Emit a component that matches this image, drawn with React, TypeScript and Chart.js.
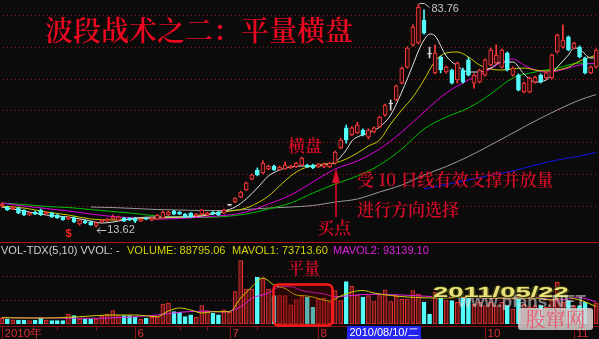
import React, { useEffect, useRef } from "react";
import { Chart, registerables } from "chart.js";

Chart.register(...registerables);

// ---------------- data ----------------
const N = 108;
const LABELS: string[] = Array.from({ length: N }, (_, i) => `D${i + 1}`);

const OPEN = [
  20.22, 19.91, 19.3, 19.6, 18.9, 17.4, 18.3, 18.9, 17.7, 18.0,
  17.4, 16.8, 16.1, 16.5, 14.6, 15.5, 15.2, 14.0, 15.2, 15.5,
  16.1, 15.8, 16.5, 16.4, 16.4, 15.5, 16.4, 15.8, 16.1, 16.5,
  17.4, 18.6, 18.3, 17.7, 18.0, 17.1, 17.7, 17.4, 18.3, 18.3,
  18.0, 20.5, 21.5, 23.0, 25.3, 28.7, 31.5, 30.6, 31.9, 32.8,
  31.6, 31.9, 32.2, 32.5, 33.1, 33.1, 33.1, 32.5, 32.5, 32.5,
  33.7, 38.5, 44.8, 42.6, 43.2, 44.1, 41.9, 43.5, 45.1, 48.8,
  52.3, 53.6, 58.9, 63.9, 70.9, 71.5, 78.7, 68.0, 62.1, 67.1,
  62.4, 63.0, 59.9, 63.0, 66.2, 58.9, 59.2, 61.4, 64.6, 65.2,
  63.9, 68.3, 61.4, 61.4, 56.1, 56.1, 59.2, 61.4, 60.5, 60.5,
  68.7, 70.2, 73.4, 69.9, 70.2, 66.8, 62.1, 64.0,
];
const HIGH = [
  21.2, 20.2, 20.2, 19.9, 19.1, 18.3, 18.6, 19.3, 18.5, 18.3,
  17.7, 17.0, 17.0, 16.8, 16.0, 15.8, 15.4, 15.2, 16.0, 16.4,
  17.4, 17.1, 16.7, 16.6, 16.7, 16.3, 16.6, 16.6, 17.6, 18.6,
  18.6, 18.9, 18.5, 17.9, 18.2, 17.9, 19.2, 18.3, 18.5, 18.6,
  19.3, 20.7, 22.9, 24.9, 27.8, 30.3, 32.2, 34.4, 33.1, 33.1,
  32.8, 34.1, 33.1, 34.0, 35.6, 33.4, 33.4, 33.7, 33.7, 34.0,
  37.5, 41.5, 45.7, 45.2, 46.6, 44.5, 44.5, 45.1, 48.5, 52.3,
  53.6, 58.3, 64.0, 70.3, 77.2, 83.76, 81.9, 70.2, 70.9, 67.4,
  64.3, 63.3, 65.5, 63.6, 67.0, 61.8, 63.3, 66.5, 69.9, 70.9,
  69.6, 68.7, 64.0, 61.8, 59.2, 60.8, 61.1, 61.8, 62.4, 68.0,
  74.3, 77.2, 73.7, 71.8, 70.6, 67.1, 64.3, 69.6,
];
const LOW = [
  19.9, 18.8, 19.1, 17.8, 17.2, 17.2, 17.5, 17.2, 17.5, 16.6,
  16.3, 15.7, 15.9, 15.0, 14.2, 14.7, 14.1, 13.62, 15.0, 15.3,
  15.9, 15.6, 15.3, 15.6, 15.0, 15.3, 15.9, 15.6, 15.9, 16.3,
  17.2, 17.5, 17.5, 16.6, 16.6, 16.9, 17.5, 17.2, 17.5, 17.2,
  17.8, 20.3, 21.3, 22.8, 25.1, 28.5, 29.7, 30.4, 31.6, 31.4,
  31.4, 31.7, 32.0, 32.3, 32.9, 32.3, 32.0, 32.3, 32.3, 32.3,
  33.4, 38.2, 40.0, 42.3, 43.0, 42.3, 41.3, 43.2, 44.8, 48.5,
  50.4, 53.3, 58.6, 63.6, 70.5, 71.2, 74.3, 66.8, 61.8, 62.1,
  62.0, 58.6, 58.9, 58.9, 61.1, 57.3, 58.9, 61.1, 64.3, 64.9,
  63.6, 62.7, 61.1, 56.4, 55.8, 55.8, 58.9, 58.9, 60.2, 60.2,
  68.3, 69.9, 69.0, 69.6, 66.8, 61.8, 61.8, 63.6,
];
const CLOSE = [
  20.85, 18.97, 19.9, 18.0, 17.4, 18.0, 17.7, 17.5, 18.2, 16.8,
  16.5, 15.9, 16.8, 15.2, 15.8, 14.9, 14.3, 14.9, 15.8, 16.1,
  16.8, 16.8, 15.5, 15.8, 15.5, 16.1, 16.1, 16.4, 17.4, 18.3,
  18.3, 17.7, 17.7, 16.8, 16.8, 17.7, 19.0, 18.0, 17.7, 17.4,
  19.0, 20.5, 22.7, 24.6, 27.5, 30.0, 30.0, 33.7, 32.8, 31.6,
  32.5, 33.1, 32.8, 33.7, 35.3, 32.5, 32.2, 33.4, 33.4, 33.7,
  37.2, 41.0, 41.0, 44.8, 45.7, 42.6, 44.1, 44.8, 48.2, 52.0,
  52.3, 58.0, 63.6, 69.9, 76.5, 82.8, 74.6, 68.0, 68.3, 63.0,
  63.9, 58.9, 65.2, 59.2, 61.4, 61.4, 63.0, 66.2, 69.3, 67.7,
  69.3, 63.0, 63.6, 56.7, 58.9, 60.5, 60.8, 59.2, 62.1, 67.7,
  74.0, 72.4, 69.3, 71.5, 67.1, 62.1, 63.9, 69.3,
];
const VOLUME = [
  24000, 21000, 18000, 16800, 16800, 14000, 16800, 25200, 16800, 14000,
  14000, 14000, 42000, 35000, 21000, 21000, 21000, 21000, 35000, 42000,
  56000, 35000, 35000, 35000, 28000, 21000, 25200, 28000, 28000, 84000,
  88000, 52000, 49000, 31000, 38000, 28000, 77000, 56000, 45000, 38000,
  60000, 49000, 136000, 266000, 147000, 147000, 196000, 192000, 147000, 119000,
  119000, 119000, 80000, 102000, 119000, 112000, 70000, 105000, 108000, 91000,
  140000, 98000, 178000, 158000, 122000, 112000, 119000, 94000, 119000, 144000,
  94000, 119000, 105000, 105000, 140000, 126000, 91000, 42000, 133000, 108000,
  98000, 98000, 91000, 112000, 112000, 84000, 91000, 77000, 91000, 77000,
  91000, 77000, 63000, 105000, 84000, 70000, 77000, 77000, 70000, 105000,
  175000, 91000, 98000, 77000, 77000, 91000, 56000, 88795.06,
];

// moving averages: [bar index, value]
const MA5: [number, number][] = [
  [0, 19.91], [4, 18.65], [8, 17.39], [12, 16.77], [16, 15.51], [18, 14.88], [20, 15.19],
  [24, 16.45], [28, 16.77], [32, 16.77], [36, 17.08], [40, 18.65], [42, 19.91], [44, 22.43],
  [46, 25.89], [48, 29.66], [50, 31.55], [52, 32.49], [54, 32.81], [56, 32.81], [58, 33.12],
  [60, 34.06], [62, 37.84], [63, 40.67], [64, 41.93], [66, 43.19], [68, 45.07], [70, 48.84],
  [72, 56.08], [74, 64.57], [75, 68.98], [76, 72.44], [77, 74.32], [78, 73.69], [80, 67.4],
  [82, 64.26], [84, 62.37], [86, 62.37], [88, 63.63], [90, 65.52], [92, 65.52], [94, 61.74],
  [96, 59.23], [98, 59.86], [100, 63.94], [102, 67.72], [103, 69.92], [104, 69.61],
  [106, 66.78], [107, 66.78],
];
const MA10: [number, number][] = [
  [0, 20.22], [4, 19.59], [8, 18.34], [12, 17.39], [16, 16.14], [20, 15.82], [24, 16.14],
  [28, 16.45], [32, 16.77], [36, 17.39], [40, 18.34], [44, 19.59], [46, 21.17], [48, 23.37],
  [50, 26.52], [52, 29.66], [54, 31.86], [56, 32.81], [58, 33.43], [60, 33.75], [62, 35.01],
  [64, 36.89], [66, 39.1], [68, 40.98], [70, 46.02], [72, 50.42], [74, 54.51], [76, 59.86],
  [78, 65.83], [80, 68.35], [82, 68.66], [84, 67.09], [86, 64.57], [88, 63.31], [90, 63.0],
  [92, 63.31], [94, 63.63], [96, 63.0], [98, 62.69], [100, 63.0], [102, 63.94], [104, 65.83],
  [106, 67.09], [107, 67.72],
];
const MA20: [number, number][] = [
  [0, 21.17], [4, 20.22], [8, 19.44], [12, 18.65], [16, 17.71], [20, 16.92], [24, 16.45],
  [28, 16.14], [32, 16.3], [36, 16.77], [40, 17.24], [44, 18.34], [48, 20.85], [52, 23.68],
  [56, 27.77], [60, 31.86], [64, 34.38], [68, 38.15], [72, 43.5], [76, 49.79], [80, 55.77],
  [84, 59.86], [88, 63.31], [90, 65.52], [92, 66.46], [94, 64.57], [96, 63.0], [98, 62.37],
  [100, 62.69], [102, 63.63], [104, 64.57], [107, 65.2],
];
const MA30: [number, number][] = [
  [0, 21.17], [4, 20.7], [8, 20.07], [12, 19.75], [16, 19.12], [20, 18.5], [24, 17.87],
  [28, 17.08], [32, 16.67], [36, 16.61], [40, 16.92], [44, 17.71], [48, 19.28], [52, 21.17],
  [56, 24.31], [60, 27.15], [64, 29.66], [68, 33.12], [72, 38.15], [76, 44.44], [80, 48.22],
  [84, 51.05], [88, 55.45], [92, 60.49], [96, 62.37], [100, 63.63], [104, 65.2], [107, 64.89],
];
const MA60: [number, number][] = [
  [16, 19.91], [20, 19.75], [24, 19.44], [28, 19.12], [32, 18.97], [36, 18.81], [40, 18.81],
  [44, 19.12], [48, 19.59], [52, 19.91], [56, 20.38], [60, 21.48], [64, 22.43], [68, 24.63],
  [72, 26.83], [76, 29.97], [80, 32.65], [84, 35.79], [88, 39.41], [92, 43.19], [96, 46.96],
  [100, 50.42], [104, 53.56], [107, 55.29],
];
const MA120: [number, number][] = [
  [76, 25.57], [80, 26.99], [84, 28.4], [88, 29.97], [92, 31.23], [96, 33.12], [100, 34.69],
  [104, 35.95], [107, 37.05],
];
const MAVOL1: [number, number][] = [
  [0, 26500], [4, 25200], [8, 25200], [12, 28100], [14, 30700], [20, 37800], [24, 37800],
  [28, 30700], [30, 54600], [32, 67200], [34, 58800], [36, 46200], [38, 51700], [41, 51700],
  [43, 109200], [45, 155400], [47, 193200], [49, 163800], [51, 149100], [53, 121800],
  [55, 117600], [57, 107100], [59, 96600], [61, 117600], [63, 134400], [65, 140700],
  [67, 130200], [70, 119700], [73, 113400], [76, 110000], [80, 109200], [84, 113400],
  [88, 109200], [92, 109200], [96, 109200], [99, 100800], [101, 113400], [104, 100800],
  [107, 73713.6],
];
const MAVOL2: [number, number][] = [
  [0, 26500], [8, 25200], [16, 24000], [24, 30700], [28, 37800], [32, 49100], [36, 53800],
  [40, 50400], [43, 72700], [45, 107900], [48, 130200], [50, 155400], [52, 156700],
  [54, 140700], [58, 126000], [60, 114700], [66, 124700], [72, 121800], [78, 114700],
  [84, 110500], [90, 107900], [96, 110500], [100, 100800], [104, 110500], [107, 93139.1],
];

const PRICE_MIN = 8.91;
const PRICE_MAX = 85.02;
const PRICE_GRID = [80.3, 70.3, 60.3, 50.3, 40.3, 30.3, 20.3];
const VOL_MAX = 340200;
const VOL_GRID = [100000, 200000];
const MONTH_TICKS: [number, string][] = [
  [0, "2010年"], [24, "6"], [41, "7"], [57, "8"], [87, "10"], [103, "11"],
];
const MINOR_TICKS = [10, 17, 32, 37, 46];
const HIGH_IDX = 75;
const LOW_IDX = 17;
const SIGNAL_IDX = 12;

// ---------------- style ----------------
const BG = "#0b0b0b";
const UP = "#ff3a3a";
const UP_FILL = "#2c0a0a";
const VOL_UP_FILL = "#5e1414";
const DOWN = "#54fcfc";
const FLAT = "#d8d8d8";
const GRID = "#961414";
const TXT_RED = "#d80c26";
const CJK = '"Noto Serif CJK SC", "Noto Sans CJK SC", sans-serif';
const LAT = '"Liberation Sans", Arial, sans-serif';

function series(pts: [number, number][]) {
  const out: (number | null)[] = new Array(N).fill(null);
  for (const [i, v] of pts) out[i] = v;
  return out;
}
function dirOf(i: number) {
  if (CLOSE[i] > OPEN[i]) return 1;
  if (CLOSE[i] < OPEN[i]) return -1;
  return 0;
}
function volUp(i: number) {
  const d = dirOf(i);
  if (d !== 0) return d > 0;
  return i === 0 || CLOSE[i] >= CLOSE[i - 1];
}
const lineDs = (label: string, pts: [number, number][], color: string, order: number) => ({
  type: "line" as const,
  label,
  data: series(pts),
  borderColor: color,
  borderWidth: 1,
  pointRadius: 0,
  pointHoverRadius: 0,
  spanGaps: true,
  tension: 0.4,
  cubicInterpolationMode: "monotone" as const,
  fill: false,
  order,
});

const gridPlugin = (id: string, scaleId: string, values: number[]) => ({
  id,
  beforeDatasetsDraw(chart: any) {
    const { ctx, chartArea } = chart;
    const s = chart.scales[scaleId];
    ctx.save();
    ctx.strokeStyle = GRID;
    ctx.lineWidth = 1;
    ctx.setLineDash([1, 3]);
    for (const v of values) {
      const y = Math.round(s.getPixelForValue(v)) + 0.5;
      ctx.beginPath();
      ctx.moveTo(chartArea.left, y);
      ctx.lineTo(chartArea.right, y);
      ctx.stroke();
    }
    ctx.restore();
  },
});

const priceLabels = {
  id: "priceLabels",
  afterDatasetsDraw(chart: any) {
    const { ctx } = chart;
    const xs = chart.scales.x;
    const ys = chart.scales.y;
    ctx.save();
    const hx = xs.getPixelForValue(HIGH_IDX);
    const hy = ys.getPixelForValue(HIGH[HIGH_IDX]);
    ctx.strokeStyle = "#c4c4c4";
    ctx.lineWidth = 1;
    ctx.beginPath();
    ctx.moveTo(hx + 1, hy - 0.5);
    ctx.lineTo(hx + 6, hy - 0.5);
    ctx.lineTo(hx + 11, hy + 3.5);
    ctx.stroke();
    ctx.fillStyle = "#c4c4c4";
    ctx.font = `11px ${LAT}`;
    ctx.textBaseline = "middle";
    ctx.textAlign = "left";
    ctx.fillText(HIGH[HIGH_IDX].toFixed(2), hx + 13, hy + 5);
    const lx = xs.getPixelForValue(LOW_IDX);
    const ly = ys.getPixelForValue(LOW[LOW_IDX]) + 3;
    ctx.beginPath();
    ctx.moveTo(lx + 1, Math.round(ly) + 0.5);
    ctx.lineTo(lx + 10, Math.round(ly) + 0.5);
    ctx.moveTo(lx + 4, Math.round(ly) - 2.5);
    ctx.lineTo(lx + 1, Math.round(ly) + 0.5);
    ctx.lineTo(lx + 4, Math.round(ly) + 3.5);
    ctx.stroke();
    ctx.fillText(LOW[LOW_IDX].toFixed(2), lx + 11, ly);
    const sx = xs.getPixelForValue(SIGNAL_IDX);
    ctx.fillStyle = "#ff2020";
    ctx.font = `bold 11px ${LAT}`;
    ctx.textAlign = "center";
    ctx.fillText("$", sx, 234);
    ctx.restore();
  },
};

const timeAxis = {
  id: "timeAxis",
  afterDraw(chart: any) {
    const { ctx, width } = chart;
    const xs = chart.scales.x;
    const axisY = chart.chartArea.bottom + 2.5;
    ctx.save();
    ctx.strokeStyle = "#8c1010";
    ctx.lineWidth = 1;
    ctx.beginPath();
    ctx.moveTo(0, axisY);
    ctx.lineTo(width, axisY);
    ctx.stroke();
    for (const i of MINOR_TICKS) {
      const px = Math.round(xs.getPixelForValue(i)) + 0.5;
      ctx.beginPath();
      ctx.moveTo(px, axisY);
      ctx.lineTo(px, axisY + 4);
      ctx.stroke();
    }
    ctx.fillStyle = "#d83030";
    ctx.font = `11.5px ${LAT}`;
    ctx.textBaseline = "alphabetic";
    for (const [i, t] of MONTH_TICKS) {
      const px = Math.round(xs.getPixelForValue(i)) + 0.5;
      ctx.beginPath();
      ctx.moveTo(px, axisY);
      ctx.lineTo(px, chart.height);
      ctx.stroke();
      ctx.fillText(t, px + 2, axisY + 10.5);
    }
    ctx.restore();
  },
};

export default function App() {
  const mainRef = useRef<HTMLCanvasElement>(null);
  const volRef = useRef<HTMLCanvasElement>(null);

  useEffect(() => {
    const dirs = OPEN.map((_, i) => dirOf(i));
    const wickColors = dirs.map((d) => (d > 0 ? UP : d < 0 ? DOWN : FLAT));
    const bodyFill = dirs.map((d) => (d > 0 ? UP_FILL : d < 0 ? DOWN : FLAT));
    const main = new Chart(mainRef.current as HTMLCanvasElement, {
      type: "bar",
      data: {
        labels: LABELS,
        datasets: [
          lineDs("MA5", MA5, "#e2e2e2", 3),
          lineDs("MA10", MA10, "#cccc00", 3),
          lineDs("MA20", MA20, "#e000e0", 3),
          lineDs("MA30", MA30, "#00c000", 3),
          lineDs("MA60", MA60, "#9a9a9a", 3),
          lineDs("MA120", MA120, "#1414e6", 3),
          {
            type: "bar",
            label: "wick",
            data: LOW.map((l, i) => [l, HIGH[i]]),
            backgroundColor: wickColors,
            borderWidth: 0,
            barThickness: 1,
            grouped: false,
            order: 2,
          },
          {
            type: "bar",
            label: "body",
            data: OPEN.map((o, i) => [o, CLOSE[i]]),
            backgroundColor: bodyFill,
            borderColor: wickColors,
            borderWidth: 1,
            borderSkipped: false,
            barThickness: 4,
            minBarLength: 1,
            grouped: false,
            order: 1,
          },
        ] as any,
      },
      options: {
        animation: false,
        responsive: false,
        devicePixelRatio: 1,
        events: [],
        layout: { padding: 0 },
        plugins: { legend: { display: false }, tooltip: { enabled: false } },
        scales: {
          x: { display: false, offset: true },
          y: { display: false, min: PRICE_MIN, max: PRICE_MAX },
        },
      } as any,
      plugins: [gridPlugin("pgrid", "y", PRICE_GRID), priceLabels],
    });

    const vUp = VOLUME.map((_, i) => volUp(i));
    const vol = new Chart(volRef.current as HTMLCanvasElement, {
      type: "bar",
      data: {
        labels: LABELS,
        datasets: [
          lineDs("MAVOL1", MAVOL1, "#d0d000", 0),
          lineDs("MAVOL2", MAVOL2, "#e020e0", 0),
          {
            type: "bar",
            label: "VOLUME",
            data: VOLUME,
            backgroundColor: vUp.map((u) => (u ? VOL_UP_FILL : DOWN)),
            borderColor: vUp.map((u) => (u ? "#e83232" : DOWN)),
            borderWidth: 1,
            borderSkipped: false,
            barThickness: 4,
            order: 1,
          },
        ] as any,
      },
      options: {
        animation: false,
        responsive: false,
        devicePixelRatio: 1,
        events: [],
        layout: { padding: { top: 0, left: 0, right: 0, bottom: 15 } },
        plugins: { legend: { display: false }, tooltip: { enabled: false } },
        scales: {
          x: { display: false, offset: true },
          y: { display: false, min: 0, max: VOL_MAX },
        },
      } as any,
      plugins: [gridPlugin("vgrid", "y", VOL_GRID), timeAxis],
    });

    return () => {
      main.destroy();
      vol.destroy();
    };
  }, []);

  const abs = (s: any) => ({ position: "absolute" as const, whiteSpace: "nowrap" as const, lineHeight: 1, ...s });
  const last = (pts: [number, number][]) => pts[pts.length - 1][1];

  return (
    <div style={{ position: "fixed", left: 0, top: 0, width: 599, height: 339, background: BG, overflow: "hidden" }}>
      <canvas ref={mainRef} width={600} height={242} style={{ position: "absolute", left: -1, top: 0, width: 600, height: 242 }} />
      <div style={{ position: "absolute", left: 0, top: 242, width: 599, height: 1, background: "#b01414" }} />
      <canvas ref={volRef} width={600} height={96} style={{ position: "absolute", left: -1, top: 243, width: 600, height: 96 }} />

      <svg width={599} height={339} style={{ position: "absolute", left: 0, top: 0 }}>
        <line x1={336} y1={217} x2={336} y2={180} stroke={TXT_RED} strokeWidth={1.6} />
        <polygon points="336,168 332,183 340,183" fill={TXT_RED} />
        <rect x={273.5} y={284.5} width={59} height={41} rx={5} fill="rgba(110,0,0,0.3)" stroke="#ff1a1a" strokeWidth={2.5} />
      </svg>

      <div style={abs({ left: 45, top: 15, fontSize: 28, fontWeight: 600, fontFamily: CJK, color: "#ec0820" })}>波段战术之二：平量横盘</div>
      <div style={abs({ left: 288, top: 136, fontSize: 17, fontWeight: 600, fontFamily: CJK, color: TXT_RED })}>横盘</div>
      <div style={abs({ left: 357, top: 170, fontSize: 17, fontWeight: 600, fontFamily: CJK, color: TXT_RED })}>受 10 日线有效支撑并放量</div>
      <div style={abs({ left: 357, top: 200, fontSize: 17, fontWeight: 600, fontFamily: CJK, color: TXT_RED })}>进行方向选择</div>
      <div style={abs({ left: 317, top: 218, fontSize: 17, fontWeight: 600, fontFamily: CJK, color: TXT_RED })}>买点</div>
      <div style={abs({ left: 288, top: 260, fontSize: 16, fontWeight: 600, fontFamily: CJK, color: TXT_RED })}>平量</div>

      <div style={abs({ left: 1, top: 245, fontSize: 11, fontFamily: LAT, color: "#d0d0d0" })}>VOL-TDX(5,10) VVOL: -</div>
      <div style={abs({ left: 127, top: 245, fontSize: 11, fontFamily: LAT, color: "#d4d400" })}>VOLUME: {VOLUME[N - 1].toFixed(2)}</div>
      <div style={abs({ left: 232, top: 245, fontSize: 11, fontFamily: LAT, color: "#d4d400" })}>MAVOL1: {last(MAVOL1).toFixed(2)}</div>
      <div style={abs({ left: 333, top: 245, fontSize: 11, fontFamily: LAT, color: "#e020e0" })}>MAVOL2: {last(MAVOL2).toFixed(2)}</div>

      <div style={abs({ left: 433, top: 284, fontSize: 15, fontWeight: 700, fontFamily: LAT, color: "#ece27a", transform: "scaleX(1.83)", transformOrigin: "left top", textShadow: "1px 1px 0 #3a3a10, -1px 0 0 #3a3a10, 0 -1px 0 #3a3a10" })}>2011/05/22</div>
      <div style={abs({ left: 458, top: 293, fontSize: 17, fontWeight: 700, fontFamily: LAT, color: "rgba(225,225,225,0.55)" })}>www.pfans.NET</div>
      <div style={abs({ left: 518, top: 308, width: 75, height: 22, background: "rgba(214,208,208,0.85)", borderRadius: 3, textAlign: "center", lineHeight: "22px", fontSize: 20, fontFamily: CJK, color: "#e65a72" })}>股窜网</div>

      <div style={abs({ left: 347, top: 326, width: 74, height: 13, background: "#2424f0", color: "#ffffff", fontSize: 11, fontFamily: LAT, lineHeight: "13px", textAlign: "center" })}>2010/08/10/二</div>
    </div>
  );
}
